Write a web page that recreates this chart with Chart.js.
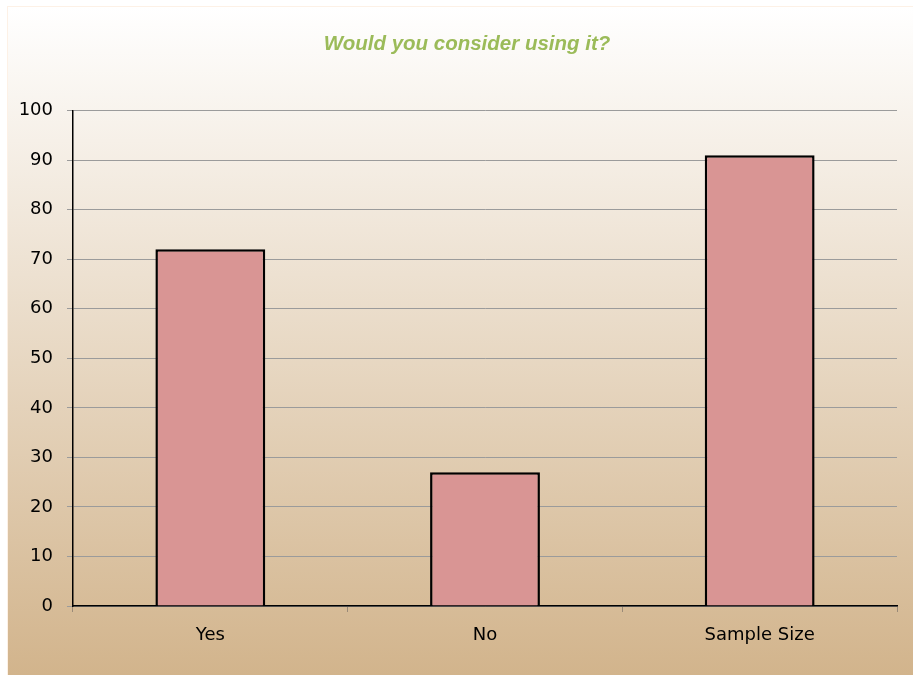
<!DOCTYPE html>
<html>
<head>
  <title>Would you consider using it?</title>
  <script src="https://cdn.jsdelivr.net/npm/chart.js"></script>
  <style>
    html, body {
      margin: 0;
      padding: 0;
      background: #ffffff;
    }

    #box {
      width: 913px;
      height: 675px;
    }
  </style>
</head>
<body>
  <div id="box"><canvas id="graphique"></canvas></div>

  <script>
    // Survey answers
    const categories = ["Yes", "No", "Sample Size"];
    const answers = [72, 27, 91];
    const yTicks = [0, 10, 20, 30, 40, 50, 60, 70, 80, 90, 100];

    const labelFont = { family: "DejaVu Sans", size: 18 };

    // White-to-tan panel behind the whole chart
    const panel = {
      id: "panel",
      afterLayout(chart) {
        // centre the title a little right of the plot's middle
        if (chart.titleBlock) chart.titleBlock.left = 37;
      },
      beforeDraw(chart) {
        const ctx = chart.ctx;
        const g = ctx.createLinearGradient(0, 7, 0, 675);
        g.addColorStop(0, "#ffffff");
        g.addColorStop(1, "#d2b48c");
        ctx.save();
        ctx.fillStyle = "#ffffff";
        ctx.fillRect(0, 0, chart.width, chart.height);
        ctx.fillStyle = g;
        ctx.fillRect(8, 7, chart.width - 8, chart.height - 7);
        ctx.strokeStyle = "#fdf1e6";
        ctx.lineWidth = 1;
        ctx.strokeRect(7.5, 6.5, chart.width, chart.height);
        ctx.restore();
      }
    };

    new Chart(document.getElementById("graphique").getContext("2d"), {
      type: "bar",
      data: {
        labels: categories,
        datasets: [
          {
            data: answers,
            backgroundColor: "#d99594",
            borderColor: "#000000",
            borderWidth: 2.5,
            categoryPercentage: 1,
            barPercentage: 0.4
          }
        ]
      },
      options: {
        responsive: true,
        maintainAspectRatio: false,
        animation: false,
        layout: {
          padding: { left: 0, right: 16, top: 0, bottom: 0 }
        },
        plugins: {
          legend: { display: false },
          tooltip: { enabled: false },
          title: {
            display: true,
            text: "Would you consider using it?",
            color: "#9bbb59",
            font: { family: "Liberation Sans", size: 20.5, style: "italic", weight: "bold" },
            padding: { top: 32, bottom: 54 }
          }
        },
        scales: {
          x: {
            offset: true,
            grid: {
              offset: true,
              drawOnChartArea: false,
              drawTicks: true,
              tickLength: 6,
              color: "#9a8a78"
            },
            border: { color: "#000000", width: 1.5 },
            ticks: { color: "#000000", font: labelFont, padding: 13 },
            afterFit(scale) {
              scale.height = 69;
            }
          },
          y: {
            min: 0,
            max: 100,
            afterBuildTicks(scale) {
              scale.ticks = yTicks.map(v => ({ value: v }));
            },
            grid: {
              color: "#9b9b9b",
              lineWidth: 1,
              tickLength: 6
            },
            border: { color: "#000000", width: 1.5 },
            ticks: { color: "#000000", font: labelFont, padding: 14 },
            afterFit(scale) {
              scale.width = 73;
            }
          }
        }
      },
      plugins: [panel]
    });
  </script>
</body>
</html>
